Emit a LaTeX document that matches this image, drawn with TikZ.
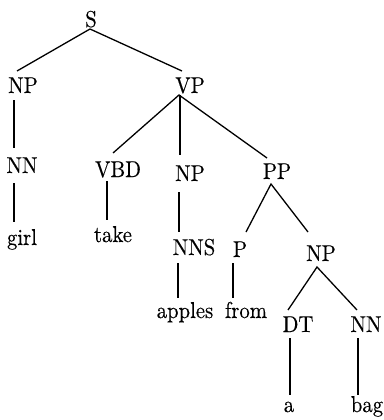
\documentclass[tikz,border=0pt]{standalone}
\usepackage{fontspec}
\setmainfont{lmroman10-regular.otf}[FakeStretch=0.9,FakeBold=0.3]
\usetikzlibrary{calc}
\begin{document}
\begin{tikzpicture}[x=1pt,y=-1pt,
  lab/.style={inner sep=0pt,anchor=base,font=\fontsize{23}{26}\selectfont},
  edge/.style={line width=1.3pt}]
\useasboundingbox (0,0) rectangle (383,420);
% nodes
\node[lab] (S) at (91,27) {S};
\node[lab] (NP1) at (23,93) {NP};
\node[lab] (VP) at (190,93) {VP};
\node[lab] (NN1) at (22,173) {NN};
\node[lab] (VBD) at (118,177) {VBD};
\node[lab] (NP2) at (190,181) {NP};
\node[lab] (PP) at (277,179) {PP};
\node[lab] (girl) at (22,245) {girl};
\node[lab] (take) at (113,242) {take};
\node[lab] (NNS) at (194,255) {NNS};
\node[lab] (P) at (240,257) {P};
\node[lab] (NP3) at (321,261) {NP};
\node[lab] (apples) at (185,318) {apples};
\node[lab] (from) at (246,318) {from};
\node[lab] (DT) at (298,332) {DT};
\node[lab] (NN2) at (366,332) {NN};
\node[lab] (a) at (289,412) {a};
\node[lab] (bag) at (367,412) {bag};
% edges
\draw[edge] ($(NP1.base)+(-6,-22)$) -- ($(S.base)+(-1,2)$) -- ($(VP.base)+(-8,-22)$);
\draw[edge] ($(NP1.base)+(-9,7)$) -- ($(NN1.base)+(-8,-25)$);
\draw[edge] ($(NN1.base)+(-8,10)$) -- ($(girl.base)+(-8,-23)$);
\draw[edge] ($(VBD.base)+(-5,-24)$) -- ($(VP.base)+(-11,2)$) -- ($(PP.base)+(-10,-21)$);
\draw[edge] ($(VP.base)+(-10,2)$) -- ($(NP2.base)+(-10,-26)$);
\draw[edge] ($(VBD.base)+(-11,4)$) -- ($(take.base)+(-6,-22)$);
\draw[edge] ($(NP2.base)+(-11,11)$) -- ($(NNS.base)+(-15,-23)$);
\draw[edge] ($(NNS.base)+(-16,8)$) -- ($(apples.base)+(-7,-20)$);
\draw[edge] ($(P.base)+(6,-25)$) -- ($(PP.base)+(-6,5)$) -- ($(NP3.base)+(-13,-29)$);
\draw[edge] ($(P.base)+(-7,6)$) -- ($(from.base)+(-13,-20)$);
\draw[edge] ($(DT.base)+(-10,-22)$) -- ($(NP3.base)+(-4,6)$) -- ($(NN2.base)+(-9,-22)$);
\draw[edge] ($(DT.base)+(-8,6)$) -- ($(a.base)+(1,-17)$);
\draw[edge] ($(NN2.base)+(-8,6)$) -- ($(bag.base)+(-9,-17)$);
\end{tikzpicture}
\end{document}
